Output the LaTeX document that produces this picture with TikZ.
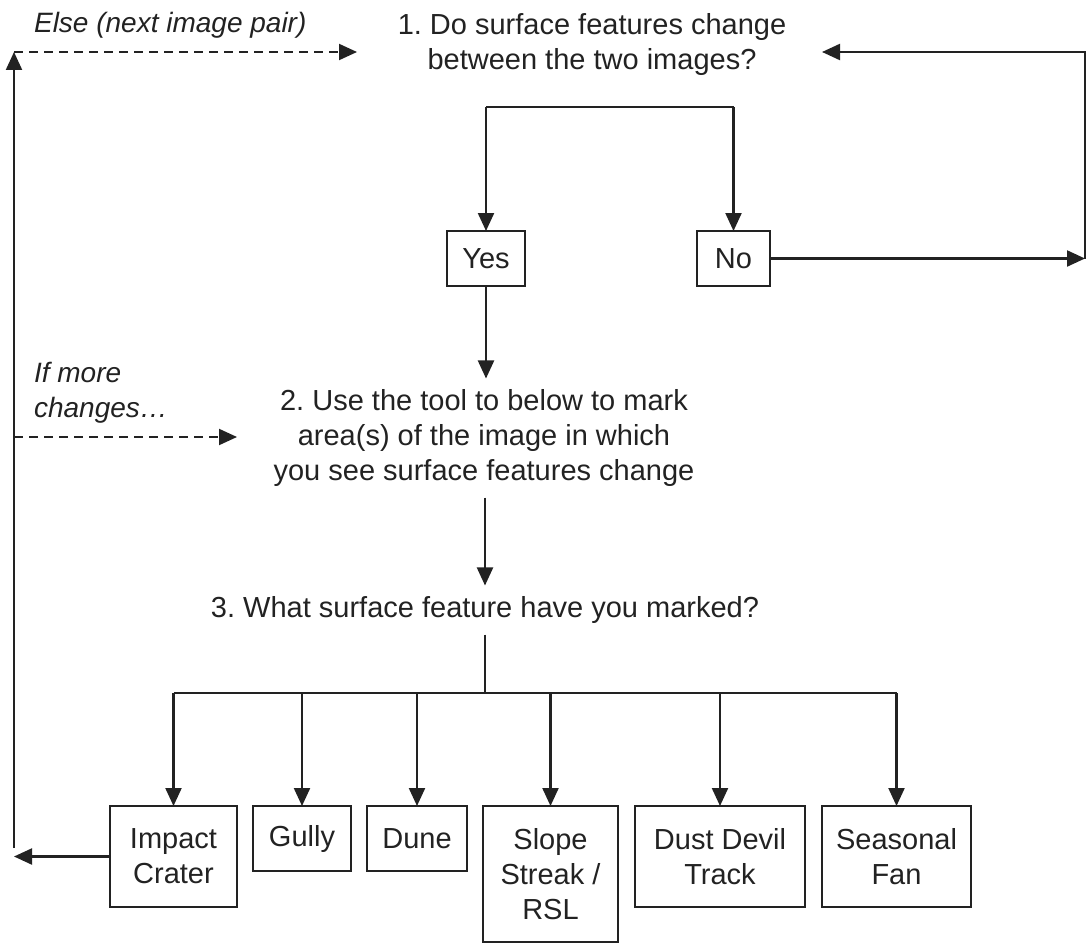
\documentclass[tikz,border=0pt]{standalone}
\usepackage{fontspec}
\setmainfont{Liberation Sans}
\usetikzlibrary{arrows.meta}
\definecolor{ink}{HTML}{222222}
\frenchspacing
\begin{document}
\frenchspacing
\begin{tikzpicture}[x=1pt,y=-1pt,
  line width=2.2pt, draw=ink, text=ink,
  arr/.style={-{Triangle[length=18pt,width=16pt]}},
  dsh/.style={dash pattern=on 9pt off 6pt, line width=2pt},
  txt/.style={font=\fontsize{29}{35}\selectfont, align=center, inner sep=0pt, outer sep=11pt},
  lbl/.style={font=\fontsize{28}{35}\selectfont\itshape, align=left, inner sep=0pt, anchor=west},
  boxn/.style={draw, font=\fontsize{29}{35}\selectfont, align=center, inner sep=0pt, outer sep=0pt}]
\useasboundingbox (0,0) rectangle (1091,944);

% texts
\node[txt] (q1) at (592,45) {1. Do surface features change\\between the two images?};
\node[txt] (q2) at (484,438) {2. Use the tool to below to mark\\area(s) of the image in which\\you see surface features change};
\node[txt] (q3) at (485,610) {3. What surface feature have you marked?};
\node[lbl] (else) at (33,25) {Else (next image pair)};
\node[lbl] (more) at (33,392.5) {If more\\changes…};

% yes / no
\node[boxn, minimum width=78pt, minimum height=55pt] (yes) at (486,258.5) {Yes};
\node[boxn, minimum width=73pt, minimum height=55pt] (no) at (733.5,258.5) {No};

% feature boxes
\node[boxn, minimum width=127pt, minimum height=101pt] (imp) at (173.5,856.5) {Impact\\Crater};
\node[boxn, minimum width=98pt, minimum height=65pt] (gul) at (302,838.5) {Gully};
\node[boxn, minimum width=100pt, minimum height=65pt] (dun) at (417,838.5) {Dune};
\node[boxn, minimum width=135pt, minimum height=136pt] (slo) at (550.5,874) {Slope\\Streak /\\RSL};
\node[boxn, minimum width=170pt, minimum height=101pt] (dus) at (720,856.5) {Dust Devil\\Track};
\node[boxn, minimum width=149pt, minimum height=101pt] (sea) at (896.5,856.5) {Seasonal\\Fan};

% helper coordinates
\coordinate (sp) at (610,107);
\coordinate (r1) at (1085,258.5);
\coordinate (r2) at (1085,52);
\coordinate (rt) at (822,52);
\coordinate (hb) at (485,693);
\coordinate (lb) at (14,848);
\coordinate (lt) at (14,52);
\coordinate (e1) at (357,52);
\coordinate (lm) at (14,437);
\coordinate (e2) at (237,437);

% split to yes/no
\draw (yes.north |- sp) -- (no.north |- sp);
\draw[arr] (yes.north |- sp) -- (yes.north);
\draw[arr] (no.north |- sp) -- (no.north);

% no loop back
\draw[arr] (no.east) -- (r1);
\draw[arr] (r1) -- (r2) -- (rt);

% yes to step 2, step 2 to step 3
\draw[arr] (yes.south) -- (yes.south |- q2.north);
\draw[arr] (q2.south -| q3.north) -- (q3.north);

% step 3 branches
\draw (q3.south) -- (hb);
\draw (imp.north |- hb) -- (sea.north |- hb);
\draw[arr] (imp.north |- hb) -- (imp.north);
\draw[arr] (gul.north |- hb) -- (gul.north);
\draw[arr] (dun.north |- hb) -- (dun.north);
\draw[arr] (slo.north |- hb) -- (slo.north);
\draw[arr] (dus.north |- hb) -- (dus.north);
\draw[arr] (sea.north |- hb) -- (sea.north);

% loop back on left
\draw[arr] (imp.west) -- (imp.west -| lb);
\draw[arr] (lb) -- (lt);
\draw[arr, dsh] (lt) -- (e1);
\draw[arr, dsh] (lm) -- (e2);
\end{tikzpicture}
\end{document}
